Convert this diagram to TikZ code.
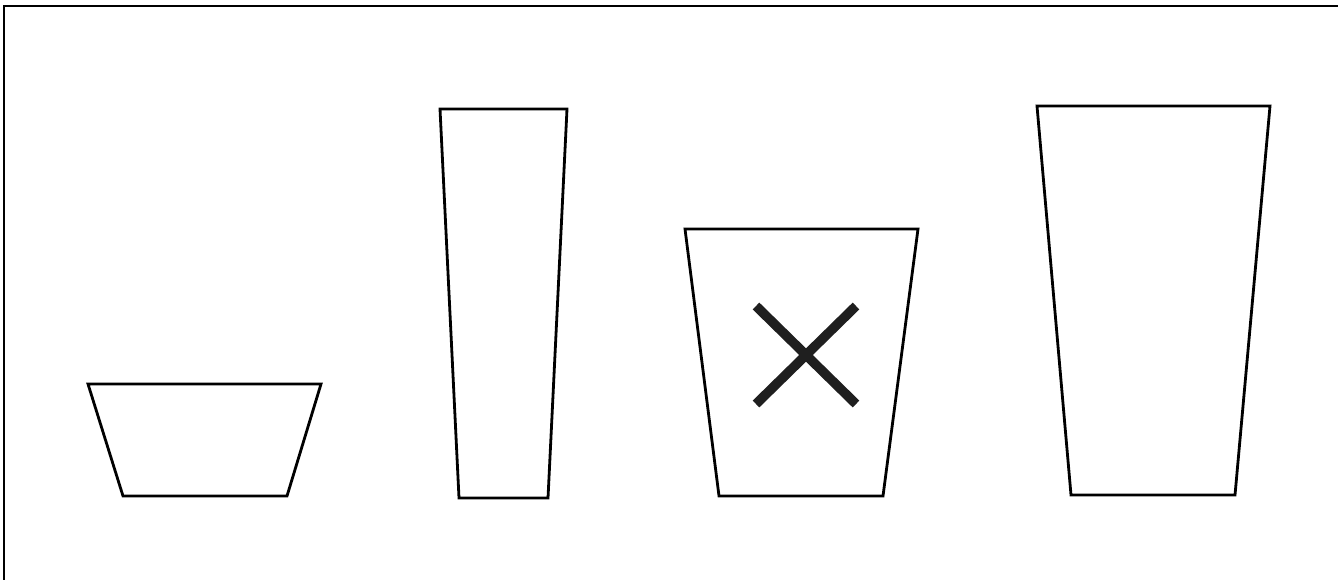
\documentclass[tikz,border=0pt]{standalone}
\begin{document}
\begin{tikzpicture}[x=1pt,y=-1pt,
  outline/.style={line width=2.8pt,line join=miter},
  framel/.style={line width=1.8pt},
  cross/.style={line width=9.5pt,color=black!88}]
\useasboundingbox (0,0) rectangle (1338,579);
\draw[framel] (4,585) -- (4,6) -- (1345,6);
% bowl
\draw[outline] (88,384) -- (321,384) -- (287,496) -- (123,496) -- cycle;
% tall glass
\draw[outline] (440,109) -- (567,109) -- (548,498) -- (459,498) -- cycle;
% cup with cross
\draw[outline] (685,229) -- (918,229) -- (883,496) -- (719,496) -- cycle;
\draw[cross] (756,306) -- (856,404);
\draw[cross] (856,306) -- (756,404);
% big glass
\draw[outline] (1037,106) -- (1270,106) -- (1235,495) -- (1071,495) -- cycle;
\end{tikzpicture}
\end{document}
